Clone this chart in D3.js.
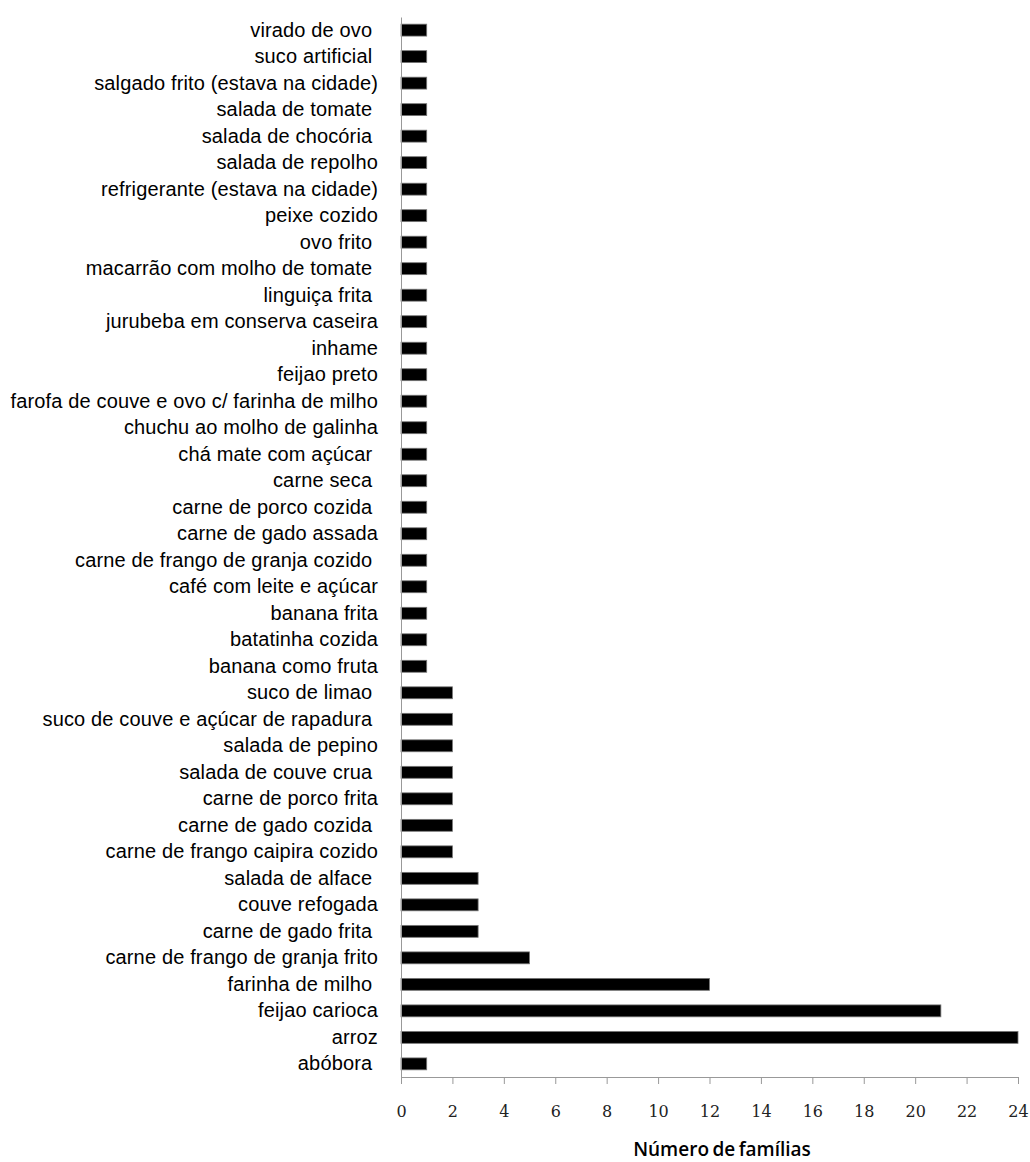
<!DOCTYPE html>
<html>
<head>
<meta charset="utf-8">
<script src="https://cdn.jsdelivr.net/npm/d3@7"></script>
<style>
  body { margin: 0; background: #fff; }
  svg { display: block; }
</style>
</head>
<body>
<div id="chart"></div>
<script>
// categorias de cima para baixo, como aparecem no gráfico
const categorias = [
  'virado de ovo ', 'suco artificial ', 'salgado frito (estava na cidade)', 'salada de tomate ',
  'salada de chocória ', 'salada de repolho', 'refrigerante (estava na cidade)', 'peixe cozido',
  'ovo frito ', 'macarrão com molho de tomate ', 'linguiça frita ', 'jurubeba em conserva caseira',
  'inhame', 'feijao preto', 'farofa de couve e ovo c/ farinha de milho', 'chuchu ao molho de galinha',
  'chá mate com açúcar ', 'carne seca ', 'carne de porco cozida ', 'carne de gado assada',
  'carne de frango de granja cozido ', 'café com leite e açúcar', 'banana frita', 'batatinha cozida',
  'banana como fruta', 'suco de limao ', 'suco de couve e açúcar de rapadura ', 'salada de pepino',
  'salada de couve crua ', 'carne de porco frita', 'carne de gado cozida ', 'carne de frango caipira cozido',
  'salada de alface ', 'couve refogada', 'carne de gado frita ', 'carne de frango de granja frito',
  'farinha de milho ', 'feijao carioca', 'arroz', 'abóbora '
];
const familias = [
  1, 1, 1, 1, 1, 1, 1, 1, 1, 1, 1, 1, 1, 1, 1, 1, 1, 1, 1, 1,
  1, 1, 1, 1, 1, 2, 2, 2, 2, 2, 2, 2, 3, 3, 3, 5, 12, 21, 24, 1
];
const ticksX = [0, 2, 4, 6, 8, 10, 12, 14, 16, 18, 20, 22, 24];

const width = 1030, height = 1162;
const margin = { top: 17, left: 401, right: 12, bottom: 85 };

const dados = categorias.map((c, i) => ({ nome: c, valor: familias[i] }));

const svg = d3.select('#chart').append('svg')
  .attr('width', width)
  .attr('height', height);

const x = d3.scaleLinear()
  .domain([0, 24])
  .range([margin.left, width - margin.right]);

const y = d3.scaleBand()
  .domain(categorias)
  .range([margin.top, height - margin.bottom])
  .paddingInner(0.55)
  .paddingOuter(0.27);

// barras
svg.append('g').attr('class', 'barras')
  .selectAll('rect')
  .data(dados)
  .join('rect')
  .attr('x', x(0))
  .attr('y', (d) => y(d.nome))
  .attr('width', (d) => x(d.valor) - x(0))
  .attr('height', y.bandwidth())
  .attr('fill', '#000')
  .attr('stroke', '#777')
  .attr('stroke-width', 0.8);

// eixo x
const eixoX = svg.append('g')
  .attr('transform', `translate(0,${height - margin.bottom})`)
  .call(d3.axisBottom(x).tickValues(ticksX).tickSize(7).tickSizeOuter(0).tickPadding(22));
eixoX.select('.domain').attr('stroke', '#999');
eixoX.selectAll('.tick line').attr('stroke', '#999');
eixoX.selectAll('.tick text')
  .attr('font-family', '"DejaVu Serif", serif')
  .attr('font-size', 16)
  .attr('fill', '#222');

// eixo y
const eixoY = svg.append('g')
  .attr('transform', `translate(${x(0)},0)`)
  .call(d3.axisLeft(y).tickSize(0).tickPadding(23));
eixoY.select('.domain').attr('stroke', '#999');
eixoY.selectAll('.tick text')
  .attr('font-family', '"Liberation Sans", Arial, sans-serif')
  .attr('font-size', 20)
  .attr('letter-spacing', 0.15)
  .attr('fill', '#000')
  .style('white-space', 'pre');

// título
svg.append('text')
  .attr('x', 722)
  .attr('y', 1156)
  .attr('text-anchor', 'middle')
  .attr('font-family', '"Open Sans", sans-serif')
  .attr('font-weight', 600)
  .attr('font-size', 19)
  .attr('word-spacing', -1.5)
  .attr('fill', '#000')
  .text('Número de famílias');
</script>
</body>
</html>
